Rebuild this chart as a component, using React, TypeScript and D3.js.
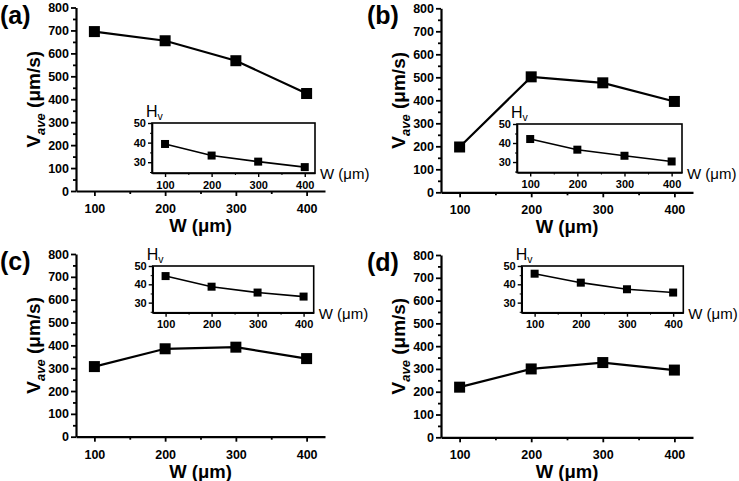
import React, { useEffect, useRef } from 'react';
import * as d3 from 'd3';

// W (um) categories shared by all panels
const widths = [100, 200, 300, 400];

// main series: average velocity (um/s)
const vaveA = [695, 655, 568, 425];
const vaveB = [197, 502, 476, 395];
const vaveC = [307, 385, 392, 342];
const vaveD = [220, 300, 328, 295];

// inset series: Vickers hardness
const hvA = [39.3, 33.4, 30.3, 27.5];
const hvB = [42.1, 36.5, 33.3, 30.3];
const hvC = [44.5, 38.7, 35.5, 33.3];
const hvD = [45.8, 40.9, 37.3, 35.5];

const vTicks = [0, 100, 200, 300, 400, 500, 600, 700, 800];
const vMinor = [50, 150, 250, 350, 450, 550, 650, 750];
const wTicks = [100, 200, 300, 400];
const wMinor = [150, 250, 350];
const hTicks = [30, 40, 50];
const hMinor = [25, 35, 45];
const panelLabels = ['(a)', '(b)', '(c)', '(d)'];

const FONT = '"Liberation Sans", Arial, sans-serif';

const layout = [
  { x: 76, y: 7.5, w: 249, h: 183.5, inset: { x: 152, y: 123, w: 163, h: 50 } },
  { x: 441, y: 8.3, w: 252, h: 184, inset: { x: 517, y: 124, w: 165, h: 48.5 } },
  { x: 76, y: 254, w: 249, h: 182.7, inset: { x: 152.7, y: 266, w: 161, h: 46.7 } },
  { x: 441, y: 255, w: 252, h: 182.3, inset: { x: 521.7, y: 266, w: 161.6, h: 46.7 } },
];

const vaveSeries = [vaveA, vaveB, vaveC, vaveD];
const hvSeries = [hvA, hvB, hvC, hvD];

const App: React.FC = () => {
  const svgRef = useRef<SVGSVGElement>(null);

  useEffect(() => {
    if (!svgRef.current) return;
    const svg = d3.select(svgRef.current);
    svg.selectAll('*').remove();

    layout.forEach((p, i) => {
      const g = svg.append('g');

      const x = d3.scaleLinear().domain([74, 426]).range([p.x, p.x + p.w]);
      const y = d3.scaleLinear().domain([0, 800]).range([p.y + p.h, p.y]);

      // main axes
      const yAxis = g.append('g').attr('transform', `translate(${p.x},0)`)
        .call(d3.axisLeft(y).tickValues(vTicks).tickSize(5).tickSizeOuter(0).tickPadding(2));
      g.append('g').attr('transform', `translate(${p.x},0)`)
        .call(d3.axisLeft(y).tickValues(vMinor).tickSize(3).tickFormat(() => ''))
        .select('.domain').remove();
      const xAxis = g.append('g').attr('transform', `translate(0,${p.y + p.h})`)
        .call(d3.axisBottom(x).tickValues(wTicks).tickSize(5).tickSizeOuter(0).tickPadding(8));
      g.append('g').attr('transform', `translate(0,${p.y + p.h})`)
        .call(d3.axisBottom(x).tickValues(wMinor).tickSize(3).tickFormat(() => ''))
        .select('.domain').remove();

      [yAxis, xAxis].forEach(a => {
        a.select('.domain').attr('stroke-width', 2.2);
        a.selectAll('text').attr('font-family', FONT).attr('font-weight', 'bold')
          .attr('font-size', 12.5).attr('fill', '#000');
      });
      g.selectAll('.tick line').attr('stroke-width', 1.8);

      // main line and markers
      const vals = vaveSeries[i];
      const line = d3.line<number>().x((_, j) => x(widths[j])).y(d => y(d));
      g.append('path').datum(vals).attr('d', line).attr('fill', 'none')
        .attr('stroke', '#000').attr('stroke-width', 2.2);
      g.selectAll('.mk').data(vals).enter().append('rect')
        .attr('x', (_, j) => x(widths[j]) - 5.5).attr('y', d => y(d) - 5.5)
        .attr('width', 11).attr('height', 11).attr('fill', '#000');

      // axis titles
      const yt = g.append('text')
        .attr('transform', `translate(${p.x - 43},${p.y + p.h / 2}) rotate(-90)`)
        .attr('text-anchor', 'middle').attr('dy', '0.35em')
        .attr('font-family', FONT).attr('font-weight', 'bold').attr('font-size', 19);
      yt.append('tspan').text('V');
      yt.append('tspan').text('ave').attr('font-style', 'italic').attr('font-size', 13).attr('dy', 5);
      yt.append('tspan').text(' (μm/s)').attr('dy', -5);

      g.append('text').attr('x', p.x + p.w / 2).attr('y', p.y + p.h + 41)
        .attr('text-anchor', 'middle').attr('font-family', FONT).attr('font-weight', 'bold')
        .attr('font-size', 18.5).text('W (μm)');

      // panel label
      g.append('text').attr('x', p.x - 76 + (i % 2 ? 2 : 0)).attr('y', p.y + 16)
        .attr('font-family', FONT).attr('font-weight', 'bold').attr('font-size', 25)
        .text(panelLabels[i]);

      // inset
      const b = p.inset;
      const ix = d3.scaleLinear().domain([72, 422]).range([b.x, b.x + b.w]);
      const iy = d3.scaleLinear().domain([24.5, 50]).range([b.y + b.h, b.y]);
      g.append('rect').attr('x', b.x).attr('y', b.y).attr('width', b.w).attr('height', b.h)
        .attr('fill', '#fff').attr('stroke', '#000').attr('stroke-width', 1.6);

      const iyAxis = g.append('g').attr('transform', `translate(${b.x},0)`)
        .call(d3.axisLeft(iy).tickValues(hTicks).tickSize(4).tickSizeOuter(0).tickPadding(2));
      g.append('g').attr('transform', `translate(${b.x},0)`)
        .call(d3.axisLeft(iy).tickValues(hMinor).tickSize(2).tickFormat(() => ''))
        .select('.domain').remove();
      const ixAxis = g.append('g').attr('transform', `translate(0,${b.y + b.h})`)
        .call(d3.axisBottom(ix).tickValues(wTicks).tickSize(4).tickSizeOuter(0).tickPadding(4));
      g.append('g').attr('transform', `translate(0,${b.y + b.h})`)
        .call(d3.axisBottom(ix).tickValues(wMinor).tickSize(2).tickFormat(() => ''))
        .select('.domain').remove();
      [iyAxis, ixAxis].forEach(a => {
        a.select('.domain').attr('stroke-width', 1.6);
        a.selectAll('text').attr('font-family', FONT).attr('font-weight', 'bold')
          .attr('font-size', 11).attr('fill', '#000');
        a.selectAll('.tick line').attr('stroke-width', 1.4);
      });

      const hv = hvSeries[i];
      const iline = d3.line<number>().x((_, j) => ix(widths[j])).y(d => iy(d));
      g.append('path').datum(hv).attr('d', iline).attr('fill', 'none')
        .attr('stroke', '#000').attr('stroke-width', 1.6);
      g.selectAll('.imk').data(hv).enter().append('rect')
        .attr('x', (_, j) => ix(widths[j]) - 4).attr('y', d => iy(d) - 4)
        .attr('width', 8).attr('height', 8).attr('fill', '#000');

      const ht = g.append('text').attr('x', b.x - 6).attr('y', b.y - 6)
        .attr('font-family', FONT).attr('font-size', 16);
      ht.append('tspan').text('H');
      ht.append('tspan').text('v').attr('font-size', 10.5).attr('dy', 3);

      g.append('text').attr('x', b.x + b.w + 5).attr('y', b.y + b.h + 6)
        .attr('font-family', FONT).attr('font-size', 15).text('W (μm)');
    });
  }, []);

  return (
    <svg
      ref={svgRef}
      width={739}
      height={481}
      style={{ position: 'absolute', left: 0, top: 0, background: '#fff' }}
    ></svg>
  );
};

export default App;
